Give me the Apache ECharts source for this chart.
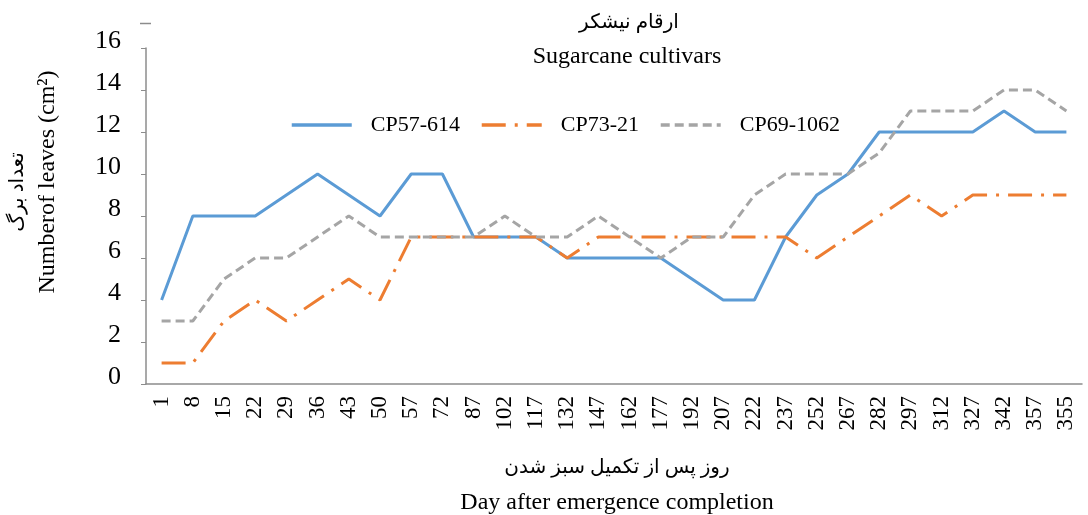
<!DOCTYPE html>
<html>
<head>
<meta charset="utf-8">
<script src="https://cdn.jsdelivr.net/npm/echarts@6/dist/echarts.min.js"></script>
<style>
html,body{margin:0;padding:0;background:#fff;}
#chart{width:1088px;height:515px;}
</style>
</head>
<body>
<div id="chart"></div>
<script>
const categories = ['1','8','15','22','29','36','43','50','57','72','87','102','117','132','147','162','177','192','207','222','237','252','267','282','297','312','327','342','357','355'];
const cp57_614 = [4,8,8,8,9,10,9,8,10,10,7,7,7,6,6,6,6,5,4,4,7,9,10,12,12,12,12,13,12,12];
const cp73_21  = [1,1,3,4,3,4,5,4,7,7,7,7,7,6,7,7,7,7,7,7,7,6,7,8,9,8,9,9,9,9];
const cp69_1062= [3,3,5,6,6,7,8,7,7,7,7,8,7,7,8,7,6,7,7,9,10,10,10,11,13,13,13,14,14,13];
const seriesNames = ['CP57-614','CP73-21','CP69-1062'];
const titleFa = 'ارقام نیشکر';
const titleEn = 'Sugarcane cultivars';
const yNameFa = 'تعداد برگ';
const yNameEn = 'Numberof leaves (cm²)';
const xNameFa = 'روز پس از تکمیل سبز شدن';
const xNameEn = 'Day after emergence completion';

const FONT = "'Liberation Serif','DejaVu Sans',serif";
const chart = echarts.init(document.getElementById('chart'));
const axisColor = '#8c8c8c';
chart.setOption({
  animation: false,
  backgroundColor: '#fff',
  grid: {left: 146, width: 936, top: 48, height: 336},
  legend: {
    left: 285, top: 109,
    itemWidth: 60, itemHeight: 14, itemGap: 20,
    itemStyle: {opacity: 0},
    lineStyle: {width: 3.5},
    textStyle: {fontFamily: FONT, fontSize: 22, color: '#000', padding: [0,0,0,14]},
    data: seriesNames
  },
  xAxis: {
    type: 'category', data: categories, boundaryGap: true,
    axisLine: {lineStyle: {color: axisColor, width: 1.5}},
    axisTick: {show: false},
    axisLabel: {rotate: 90, interval: 0, margin: 12, fontFamily: FONT, fontSize: 23, color: '#000'}
  },
  yAxis: {
    type: 'value', min: 0, max: 16, interval: 2,
    splitLine: {show: false},
    axisLine: {show: true, lineStyle: {color: axisColor, width: 1.5}},
    axisTick: {show: true, length: 5, lineStyle: {color: axisColor}},
    axisLabel: {margin: 25, fontFamily: FONT, fontSize: 26, color: '#000', verticalAlign: 'bottom', lineHeight: 14}
  },
  series: [
    {name: seriesNames[0], type: 'line', data: cp57_614, symbol: 'none',
     lineStyle: {color: '#5B9BD5', width: 3}, itemStyle: {color: '#5B9BD5'}},
    {name: seriesNames[1], type: 'line', data: cp73_21, symbol: 'none',
     lineStyle: {color: '#ED7D31', width: 3, type: [24, 9, 3, 9]}, itemStyle: {color: '#ED7D31'}},
    {name: seriesNames[2], type: 'line', data: cp69_1062, symbol: 'none',
     lineStyle: {color: '#A5A5A5', width: 3, type: [9, 5]}, itemStyle: {color: '#A5A5A5'}}
  ],
  graphic: [
    {type: 'line', shape: {x1: 140, y1: 23.5, x2: 151, y2: 23.5}, style: {stroke: axisColor, lineWidth: 1.5}},
    {type: 'text', x: 629, y: 23, style: {text: titleFa, font: "20px " + FONT, fill: '#000', textAlign: 'center', textVerticalAlign: 'middle'}},
    {type: 'text', x: 627, y: 57, style: {text: titleEn, font: "24px " + FONT, fill: '#000', textAlign: 'center', textVerticalAlign: 'middle'}},
    {type: 'text', x: 18, y: 192, rotation: Math.PI/2, style: {text: yNameFa, font: "20px " + FONT, fill: '#000', textAlign: 'center', textVerticalAlign: 'middle'}},
    {type: 'text', x: 48, y: 182, rotation: Math.PI/2, style: {text: yNameEn, font: "24px " + FONT, fill: '#000', textAlign: 'center', textVerticalAlign: 'middle'}},
    {type: 'text', x: 617, y: 468, style: {text: xNameFa, font: "20px " + FONT, fill: '#000', textAlign: 'center', textVerticalAlign: 'middle'}},
    {type: 'text', x: 617, y: 503, style: {text: xNameEn, font: "24px " + FONT, fill: '#000', textAlign: 'center', textVerticalAlign: 'middle'}}
  ]
});
</script>
</body>
</html>
